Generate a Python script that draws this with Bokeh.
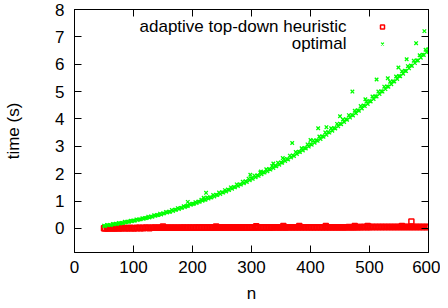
from bokeh.plotting import figure
from bokeh.models import (Range1d, LinearAxis, Label, Legend, LegendItem,
                          FixedTicker, CustomJSTickFormatter)
from bokeh.embed import file_html
from bokeh.resources import INLINE

# ---------------- data ----------------
x_ticks = [0, 100, 200, 300, 400, 500, 600]
y_ticks = [0, 1, 2, 3, 4, 5, 6, 7, 8]

opt_n = [50, 55, 60, 65, 70, 75, 80, 85, 90, 95,
         100, 105, 110, 115, 120, 125, 130, 135, 140, 145,
         150, 155, 160, 165, 170, 175, 180, 185, 190, 195,
         200, 205, 210, 215, 220, 225, 230, 235, 240, 245,
         250, 255, 260, 265, 270, 275, 280, 285, 290, 295,
         300, 305, 310, 315, 320, 325, 330, 335, 340, 345,
         350, 355, 360, 365, 370, 375, 380, 385, 390, 395,
         400, 405, 410, 415, 420, 425, 430, 435, 440, 445,
         450, 455, 460, 465, 470, 475, 480, 485, 490, 495,
         500, 505, 510, 515, 520, 525, 530, 535, 540, 545,
         550, 555, 560, 565, 570, 575, 580, 585, 590, 595, 600]
opt_t = [0.10, 0.13, 0.13, 0.16, 0.17, 0.20, 0.20, 0.24, 0.24, 0.28,
         0.29, 0.33, 0.33, 0.37, 0.38, 0.43, 0.44, 0.48, 0.49, 0.54,
         0.55, 0.60, 0.61, 0.67, 0.68, 0.74, 0.75, 0.81, 0.82, 0.89,
         0.90, 0.96, 0.98, 1.05, 1.06, 1.13, 1.14, 1.22, 1.23, 1.31,
         1.32, 1.40, 1.42, 1.50, 1.51, 1.61, 1.61, 1.71, 1.72, 1.82,
         1.83, 1.93, 1.94, 2.04, 2.05, 2.16, 2.17, 2.28, 2.29, 2.40,
         2.41, 2.53, 2.54, 2.66, 2.67, 2.79, 2.80, 2.93, 2.94, 3.07,
         3.08, 3.21, 3.22, 3.36, 3.37, 3.51, 3.52, 3.66, 3.67, 3.82,
         3.83, 3.98, 3.99, 4.14, 4.15, 4.30, 4.32, 4.47, 4.49, 4.64,
         4.66, 4.82, 4.83, 5.00, 5.01, 5.18, 5.19, 5.36, 5.38, 5.55,
         5.57, 5.74, 5.76, 5.93, 5.95, 6.13, 6.14, 6.33, 6.35, 6.53, 6.55]
opt_n2 = [52, 57, 62, 67, 72, 77, 82, 87, 92, 97,
          102, 107, 112, 117, 122, 127, 132, 137, 142, 147,
          152, 157, 162, 167, 172, 177, 182, 187, 192, 197,
          202, 207, 212, 217, 222, 227, 232, 237, 242, 247,
          252, 257, 262, 267, 272, 277, 282, 287, 292, 297,
          302, 307, 312, 317, 322, 327, 332, 337, 342, 347,
          352, 357, 362, 367, 372, 377, 382, 387, 392, 397,
          402, 407, 412, 417, 422, 427, 432, 437, 442, 447,
          452, 457, 462, 467, 472, 477, 482, 487, 492, 497,
          502, 507, 512, 517, 522, 527, 532, 537, 542, 547,
          552, 557, 562, 567, 572, 577, 582, 587, 592, 597]
opt_t2 = [0.09, 0.12, 0.12, 0.15, 0.16, 0.18, 0.20, 0.22, 0.24, 0.26,
          0.28, 0.31, 0.33, 0.35, 0.38, 0.40, 0.43, 0.46, 0.49, 0.51,
          0.55, 0.58, 0.61, 0.64, 0.68, 0.71, 0.75, 0.78, 0.82, 0.86,
          0.89, 0.93, 0.97, 1.01, 1.05, 1.09, 1.13, 1.17, 1.22, 1.26,
          1.31, 1.35, 1.40, 1.45, 1.50, 1.55, 1.60, 1.65, 1.70, 1.76,
          1.81, 1.87, 1.92, 1.98, 2.04, 2.09, 2.15, 2.21, 2.27, 2.33,
          2.40, 2.46, 2.52, 2.59, 2.65, 2.72, 2.79, 2.85, 2.92, 2.99,
          3.06, 3.13, 3.20, 3.27, 3.35, 3.42, 3.50, 3.57, 3.65, 3.73,
          3.81, 3.89, 3.97, 4.05, 4.13, 4.21, 4.30, 4.38, 4.47, 4.55,
          4.64, 4.73, 4.82, 4.91, 5.00, 5.09, 5.18, 5.27, 5.37, 5.46,
          5.56, 5.65, 5.75, 5.85, 5.94, 6.04, 6.14, 6.24, 6.34, 6.44]
opt_out_n = [192, 219, 223, 298, 316, 337, 353, 369, 400, 413,
             427, 450, 471, 493, 512, 531, 549, 563, 579, 593]
opt_out_t = [0.97, 1.12, 1.30, 1.96, 2.08, 2.37, 2.57, 3.12, 3.23, 3.66,
             3.70, 4.10, 5.00, 4.72, 5.44, 5.49, 5.88, 6.18, 6.77, 7.21]

heu_t = [0.01, 0.01, 0.01, 0.01, 0.01, 0.01, 0.01, 0.02, 0.01, 0.02,
         0.01, 0.02, 0.02, 0.02, 0.02, 0.02, 0.02, 0.02, 0.02, 0.02,
         0.02, 0.02, 0.02, 0.02, 0.02, 0.02, 0.02, 0.03, 0.02, 0.03,
         0.02, 0.03, 0.03, 0.03, 0.03, 0.03, 0.03, 0.03, 0.03, 0.03,
         0.03, 0.03, 0.03, 0.03, 0.03, 0.03, 0.03, 0.03, 0.03, 0.03,
         0.03, 0.03, 0.03, 0.04, 0.03, 0.04, 0.03, 0.04, 0.04, 0.04,
         0.04, 0.04, 0.04, 0.04, 0.04, 0.04, 0.04, 0.04, 0.04, 0.04,
         0.04, 0.04, 0.04, 0.04, 0.04, 0.04, 0.04, 0.04, 0.04, 0.04,
         0.04, 0.04, 0.04, 0.05, 0.04, 0.05, 0.04, 0.05, 0.05, 0.05,
         0.05, 0.05, 0.05, 0.05, 0.05, 0.05, 0.05, 0.05, 0.05, 0.05,
         0.05, 0.05, 0.05, 0.05, 0.05, 0.05, 0.05, 0.05, 0.05, 0.05, 0.05]
heu_t2 = [0.00, 0.00, 0.01, 0.00, 0.01, 0.01, 0.01, 0.01, 0.01, 0.01,
          0.01, 0.01, 0.01, 0.01, 0.02, 0.01, 0.02, 0.02, 0.02, 0.02,
          0.02, 0.02, 0.02, 0.02, 0.02, 0.02, 0.02, 0.02, 0.02, 0.02,
          0.02, 0.02, 0.02, 0.03, 0.02, 0.03, 0.02, 0.03, 0.03, 0.03,
          0.03, 0.03, 0.03, 0.03, 0.03, 0.03, 0.03, 0.03, 0.03, 0.03,
          0.03, 0.03, 0.03, 0.03, 0.03, 0.03, 0.03, 0.03, 0.04, 0.03,
          0.04, 0.03, 0.04, 0.04, 0.04, 0.04, 0.04, 0.04, 0.04, 0.04,
          0.04, 0.04, 0.04, 0.04, 0.04, 0.04, 0.04, 0.04, 0.04, 0.04,
          0.04, 0.04, 0.04, 0.04, 0.04, 0.04, 0.05, 0.04, 0.05, 0.04,
          0.05, 0.05, 0.05, 0.05, 0.05, 0.05, 0.05, 0.05, 0.05, 0.05,
          0.05, 0.05, 0.05, 0.05, 0.05, 0.05, 0.05, 0.05, 0.05, 0.05]
heu_out_n = [150, 240, 308, 354, 381, 426, 475, 497, 555, 571]
heu_out_t = [0.07, 0.07, 0.08, 0.09, 0.09, 0.09, 0.09, 0.09, 0.09, 0.25]

series_labels = ["adaptive top-down heuristic", "optimal"]

FONT = "Liberation Sans"
FS = "17px"
RED = "#ff0000"
GREEN = "#00ff00"

p = figure(width=440, height=308, output_backend="svg", toolbar_location=None,
           x_range=Range1d(0, 600), y_range=Range1d(-0.88, 8),
           min_border_left=74, min_border_right=12, min_border_top=9,
           min_border_bottom=56,
           styles={"position": "absolute", "left": "0px", "top": "0px"})
p.background_fill_color = "white"
p.border_fill_color = "white"
p.outline_line_color = "black"
p.outline_line_width = 1
p.grid.visible = False

r_heu = p.scatter(opt_n + opt_n2 + heu_out_n, heu_t + heu_t2 + heu_out_t,
                  marker="square", size=5, fill_color=None,
                  line_color=RED, line_width=1.5)
r_opt = p.scatter(opt_n + opt_n2 + opt_out_n, opt_t + opt_t2 + opt_out_t,
                  marker="x", size=5, line_color=GREEN, line_width=1.3)

for ax in (p.xaxis[0], p.yaxis[0]):
    ax.major_tick_in = 7
    ax.major_tick_out = 0
    ax.minor_tick_line_color = None
    ax.axis_line_color = "black"
    ax.major_tick_line_color = "black"
    ax.major_label_text_font = FONT
    ax.major_label_text_font_size = FS
    ax.major_label_text_color = "black"
    ax.axis_label_text_font = FONT
    ax.axis_label_text_font_size = FS
    ax.axis_label_text_font_style = "normal"
    ax.axis_label_text_color = "black"

p.xaxis.ticker = FixedTicker(ticks=x_ticks)
p.yaxis.ticker = FixedTicker(ticks=y_ticks)
p.xaxis.axis_label = "n"
p.yaxis.axis_label = "time (s)"
p.xaxis.major_label_standoff = 8
p.xaxis.axis_label_standoff = 8
p.yaxis.major_label_standoff = 10
p.yaxis.axis_label_standoff = 29

blank = CustomJSTickFormatter(code="return ''")
top = LinearAxis(ticker=FixedTicker(ticks=x_ticks), formatter=blank,
                 major_tick_in=7, major_tick_out=0, minor_tick_line_color=None,
                 major_label_text_font_size="0px", major_label_standoff=0,
                 axis_line_color="black")
right = LinearAxis(ticker=FixedTicker(ticks=y_ticks), formatter=blank,
                   major_tick_in=7, major_tick_out=0, minor_tick_line_color=None,
                   major_label_text_font_size="0px", major_label_standoff=0,
                   axis_line_color="black")
p.add_layout(top, "above")
p.add_layout(right, "right")

legend = Legend(items=[LegendItem(label=" ", renderers=[r_heu]),
                       LegendItem(label=" ", renderers=[r_opt])],
                location=(303, 200), glyph_width=10, glyph_height=17,
                label_height=17, label_width=0, label_standoff=0,
                spacing=0, padding=0, margin=0,
                border_line_color=None, background_fill_alpha=0,
                label_text_font_size="1px")
p.add_layout(legend)

for i, txt in enumerate(series_labels):
    p.add_layout(Label(x=272, y=226 - 17 * i, x_units="screen", y_units="screen",
                       text=txt, text_align="right", text_baseline="middle",
                       text_font=FONT, text_font_size=FS, text_color="black"))

open("out.html", "w").write(file_html(p, INLINE))
